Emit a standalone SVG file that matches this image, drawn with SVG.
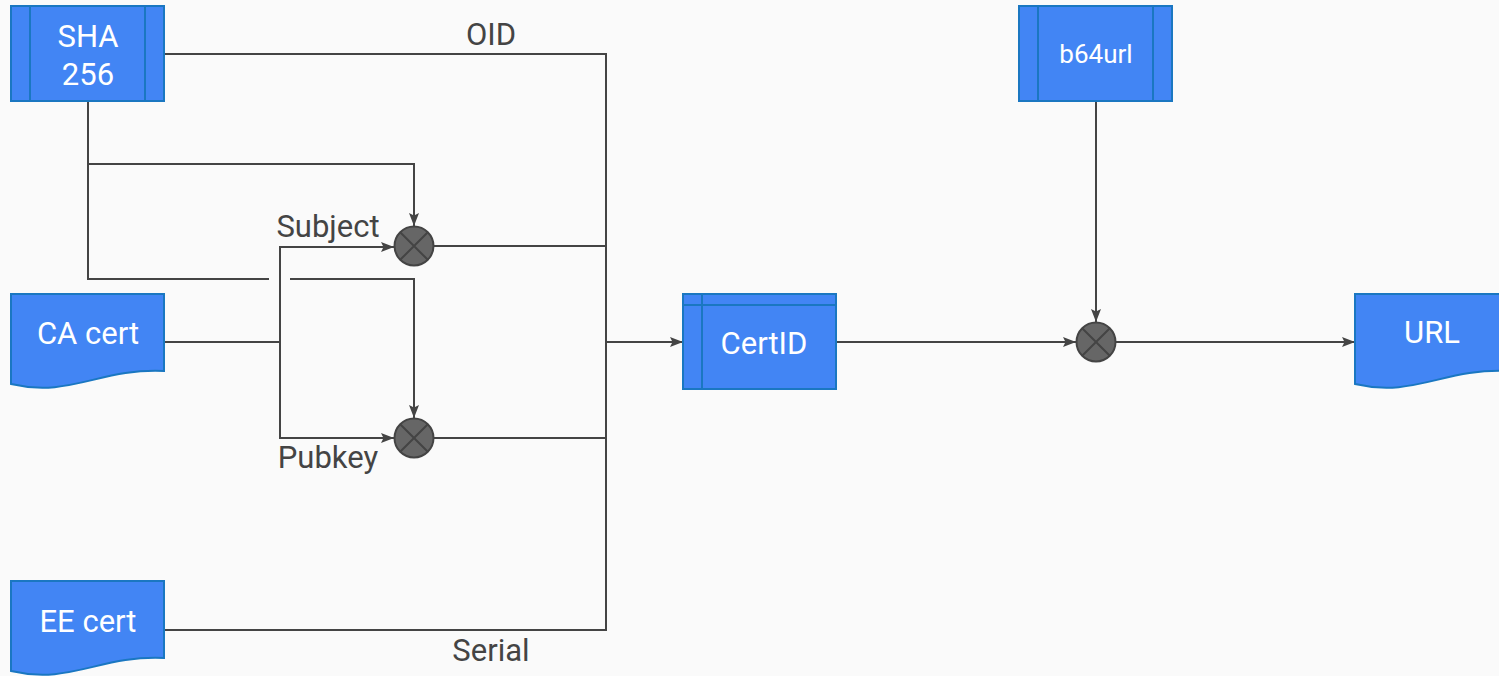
<svg xmlns="http://www.w3.org/2000/svg" width="1499" height="676" viewBox="0 0 1499 676">
<style>
.box{fill:#4285f4;stroke:#1a77c1;stroke-width:2}
.inner{stroke:#1a77c1;stroke-width:2;fill:none}
.t{font-family:Roboto,"Liberation Sans",sans-serif;fill:#ffffff;text-anchor:middle;font-size:31px}
.lbl{font-family:Roboto,"Liberation Sans",sans-serif;fill:#444444;font-size:31px}
.c{fill:none;stroke:#444444;stroke-width:2}
.ca{fill:none;stroke:#444444;stroke-width:2;marker-end:url(#arr)}
.mul{fill:#666666;stroke:#444444;stroke-width:2}
.x{stroke:#444444;stroke-width:2}
</style>
<defs>
<marker id="arr" markerUnits="userSpaceOnUse" markerWidth="13" markerHeight="10" refX="13" refY="5" orient="auto">
<path d="M0,0 L13,5 L0,10 L2.5,5 Z" fill="#444444"/>
</marker>
<path id="doc" d="M0,0 H153 V77 C89,74 59,104 0,90 Z"/>
</defs>
<rect width="1499" height="676" fill="#fafafa"/>
<g id="connectors">
<path class="c" d="M164,54 H606 V342"/>
<path class="c" d="M164,630 H606 V342"/>
<path class="ca" d="M606,342 H683"/>
<path class="c" d="M434,246 H606"/>
<path class="c" d="M434,438 H606"/>
<path class="c" d="M88,102 V279 H269"/>
<path class="ca" d="M290,279 H414 V418"/>
<path class="ca" d="M88,164 H414 V226"/>
<path class="c" d="M164,342 H280"/>
<path class="ca" d="M280,342 V247 H394"/>
<path class="ca" d="M280,342 V438 H394"/>
<path class="ca" d="M837,342 H1076"/>
<path class="ca" d="M1096,102 V322"/>
<path class="ca" d="M1116,342 H1355"/>
<text class="lbl" x="491" y="45" text-anchor="middle">OID</text>
<text class="lbl" x="491" y="661" text-anchor="middle">Serial</text>
<text class="lbl" x="328" y="237" text-anchor="middle">Subject</text>
<text class="lbl" x="328" y="468" text-anchor="middle">Pubkey</text>
</g>
<g id="sha256">
<rect class="box" x="11" y="6" width="153" height="95"/>
<path class="inner" d="M30,6 V101 M145,6 V101"/>
<text class="t" x="88" y="47">SHA</text>
<text class="t" x="88" y="85">256</text>
</g>
<g id="b64url">
<rect class="box" x="1019" y="6" width="153" height="95"/>
<path class="inner" d="M1038,6 V101 M1153,6 V101"/>
<text class="t" x="1096" y="63" style="font-size:26px">b64url</text>
</g>
<g id="cacert">
<use href="#doc" class="box" x="11" y="294"/>
<text class="t" x="88" y="344">CA cert</text>
</g>
<g id="eecert">
<use href="#doc" class="box" x="11" y="581"/>
<text class="t" x="88" y="632">EE cert</text>
</g>
<g id="certid">
<rect class="box" x="683" y="294" width="153" height="95"/>
<path class="inner" d="M683,305 H836 M702,294 V389"/>
<text class="t" x="764" y="354">CertID</text>
</g>
<g id="url">
<use href="#doc" class="box" x="1355" y="294"/>
<text class="t" x="1432" y="343">URL</text>
</g>
<g id="mul1">
<circle class="mul" cx="414" cy="246" r="19.5"/>
<path class="x" d="M400.2,232.2 L427.8,259.8 M427.8,232.2 L400.2,259.8"/>
</g>
<g id="mul2">
<circle class="mul" cx="414" cy="438" r="19.5"/>
<path class="x" d="M400.2,424.2 L427.8,451.8 M427.8,424.2 L400.2,451.8"/>
</g>
<g id="mul3">
<circle class="mul" cx="1096" cy="342" r="19.5"/>
<path class="x" d="M1082.2,328.2 L1109.8,355.8 M1109.8,328.2 L1082.2,355.8"/>
</g>
</svg>
